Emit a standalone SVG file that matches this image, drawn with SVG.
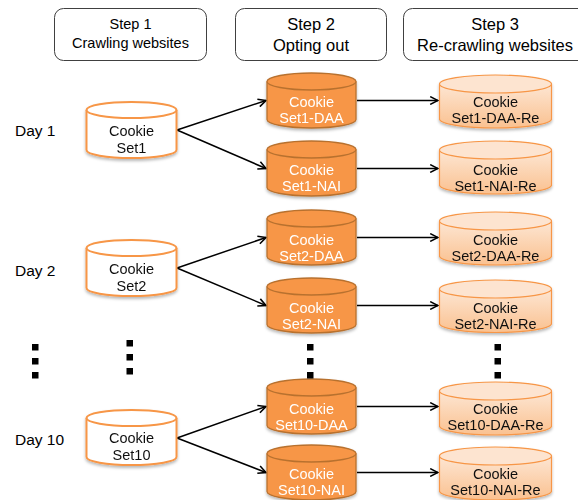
<svg xmlns="http://www.w3.org/2000/svg" width="578" height="500" viewBox="0 0 578 500">
  <style>
    .step { fill: #ffffff; stroke: #404040; stroke-width: 1; }
    .hd { font-family: "Liberation Sans", Arial, sans-serif; fill: #000; text-anchor: middle; }
    .day { font-family: "Liberation Sans", Arial, sans-serif; font-size: 15.5px; fill: #000; }
    .lbl { font-family: "Liberation Sans", Arial, sans-serif; font-size: 14.5px; text-anchor: middle; }
    .src { fill: #ffffff; stroke: #F79646; stroke-width: 2; }
    .opt { fill: #F79646; stroke: #B8712F; stroke-width: 1.3; }
    .re-body { fill: url(#reGrad); stroke: #F79646; stroke-width: 1.2; }
    .re-top { fill: #FDE4D0; stroke: #F79646; stroke-width: 1.2; }
    .dark { fill: #111; }
    .light { fill: #ffffff; }
    .edge { fill: none; stroke: #000; stroke-width: 1.5; marker-end: url(#arrow); }
    .dot { fill: #000; }
  </style>
  <defs>
    <linearGradient id="reGrad" x1="0" y1="0" x2="0" y2="1">
      <stop offset="0" stop-color="#FDE6D3"/>
      <stop offset="1" stop-color="#FAC190"/>
    </linearGradient>
    <filter id="shadow" x="-20%" y="-20%" width="140%" height="150%">
      <feDropShadow dx="0" dy="2" stdDeviation="1.5" flood-color="#000" flood-opacity="0.28"/>
    </filter>
    <marker id="arrow" viewBox="0 0 10 10" refX="9" refY="5" markerWidth="6.5" markerHeight="6.5" orient="auto" markerUnits="strokeWidth">
      <path d="M1,1 L9,5 L1,9" fill="none" stroke="#000" stroke-width="1.6"/>
    </marker>
  </defs>

  <!-- step headers -->
  <g id="step1">
    <rect class="step" x="54.5" y="8.5" width="152" height="52" rx="9"/>
    <text class="hd" x="130.5" y="29" font-size="14.5">Step 1</text>
    <text class="hd" x="130.5" y="48" font-size="14.5">Crawling websites</text>
  </g>
  <g id="step2">
    <rect class="step" x="235.5" y="8.5" width="151" height="52" rx="9"/>
    <text class="hd" x="311" y="30" font-size="16.5">Step 2</text>
    <text class="hd" x="311" y="51" font-size="16.5">Opting out</text>
  </g>
  <g id="step3">
    <rect class="step" x="403.5" y="8.5" width="185" height="52" rx="9"/>
    <text class="hd" x="495" y="30" font-size="16.5">Step 3</text>
    <text class="hd" x="495" y="51" font-size="16.5">Re-crawling websites</text>
  </g>

  <!-- day labels -->
  <g id="day1"><text class="day" x="15" y="136">Day 1</text></g>
  <g id="day2"><text class="day" x="15" y="276">Day 2</text></g>
  <g id="day10"><text class="day" x="15" y="445">Day 10</text></g>

  <!-- connectors -->
  <g id="connectors">
    <line class="edge" x1="177" y1="130" x2="266" y2="100.5"/>
    <line class="edge" x1="177" y1="130" x2="266" y2="168.5"/>
    <line class="edge" x1="177" y1="268" x2="266" y2="237.5"/>
    <line class="edge" x1="177" y1="268" x2="266" y2="305.5"/>
    <line class="edge" x1="177" y1="438" x2="266" y2="406.5"/>
    <line class="edge" x1="177" y1="438" x2="266" y2="472.5"/>
    <line class="edge" x1="357" y1="100.5" x2="438" y2="100.5"/>
    <line class="edge" x1="357" y1="168.5" x2="438" y2="168.5"/>
    <line class="edge" x1="357" y1="237.5" x2="438" y2="237.5"/>
    <line class="edge" x1="357" y1="305.5" x2="438" y2="305.5"/>
    <line class="edge" x1="357" y1="406.5" x2="438" y2="406.5"/>
    <line class="edge" x1="357" y1="472.5" x2="438" y2="472.5"/>
  </g>

  <!-- crawled cookie sets -->
  <g id="set1" filter="url(#shadow)">
    <path class="src" d="M86.5,110 V150 A45,8 0 0 0 176.5,150 V110"/>
    <ellipse class="src" cx="131.5" cy="110" rx="45" ry="8"/>
    <text class="lbl dark" x="131.5" y="136">Cookie</text>
    <text class="lbl dark" x="131.5" y="153">Set1</text>
  </g>
  <g id="set2" filter="url(#shadow)">
    <path class="src" d="M86.5,248 V288 A45,8 0 0 0 176.5,288 V248"/>
    <ellipse class="src" cx="131.5" cy="248" rx="45" ry="8"/>
    <text class="lbl dark" x="131.5" y="274">Cookie</text>
    <text class="lbl dark" x="131.5" y="291">Set2</text>
  </g>
  <g id="set10" filter="url(#shadow)">
    <path class="src" d="M86.5,418 V457 A45,8 0 0 0 176.5,457 V418"/>
    <ellipse class="src" cx="131.5" cy="418" rx="45" ry="8"/>
    <text class="lbl dark" x="131.5" y="443">Cookie</text>
    <text class="lbl dark" x="131.5" y="460">Set10</text>
  </g>

  <!-- opted-out cookie sets -->
  <g id="set1-daa" filter="url(#shadow)">
    <path class="opt" d="M267,81.5 V119.5 A44.5,8.5 0 0 0 356,119.5 V81.5"/>
    <ellipse class="opt" cx="311.5" cy="81.5" rx="44.5" ry="8.5"/>
    <text class="lbl light" x="311.5" y="107">Cookie</text>
    <text class="lbl light" x="311.5" y="123">Set1-DAA</text>
  </g>
  <g id="set1-nai" filter="url(#shadow)">
    <path class="opt" d="M267,149.5 V187.5 A44.5,8.5 0 0 0 356,187.5 V149.5"/>
    <ellipse class="opt" cx="311.5" cy="149.5" rx="44.5" ry="8.5"/>
    <text class="lbl light" x="311.5" y="175">Cookie</text>
    <text class="lbl light" x="311.5" y="191">Set1-NAI</text>
  </g>
  <g id="set2-daa" filter="url(#shadow)">
    <path class="opt" d="M267,218.5 V256.5 A44.5,8.5 0 0 0 356,256.5 V218.5"/>
    <ellipse class="opt" cx="311.5" cy="218.5" rx="44.5" ry="8.5"/>
    <text class="lbl light" x="311.5" y="245">Cookie</text>
    <text class="lbl light" x="311.5" y="261">Set2-DAA</text>
  </g>
  <g id="set2-nai" filter="url(#shadow)">
    <path class="opt" d="M267,286.5 V324.5 A44.5,8.5 0 0 0 356,324.5 V286.5"/>
    <ellipse class="opt" cx="311.5" cy="286.5" rx="44.5" ry="8.5"/>
    <text class="lbl light" x="311.5" y="313">Cookie</text>
    <text class="lbl light" x="311.5" y="329">Set2-NAI</text>
  </g>
  <g id="set10-daa" filter="url(#shadow)">
    <path class="opt" d="M267,387.5 V425.5 A44.5,8.5 0 0 0 356,425.5 V387.5"/>
    <ellipse class="opt" cx="311.5" cy="387.5" rx="44.5" ry="8.5"/>
    <text class="lbl light" x="311.5" y="414">Cookie</text>
    <text class="lbl light" x="311.5" y="430">Set10-DAA</text>
  </g>
  <g id="set10-nai" filter="url(#shadow)">
    <path class="opt" d="M267,453.5 V491.5 A44.5,8.5 0 0 0 356,491.5 V453.5"/>
    <ellipse class="opt" cx="311.5" cy="453.5" rx="44.5" ry="8.5"/>
    <text class="lbl light" x="311.5" y="479">Cookie</text>
    <text class="lbl light" x="311.5" y="495">Set10-NAI</text>
  </g>

  <!-- re-crawled cookie sets -->
  <g id="set1-daa-re" filter="url(#shadow)">
    <path class="re-body" d="M439.5,84 V119 A56,9 0 0 0 551.5,119 V84"/>
    <ellipse class="re-top" cx="495.5" cy="84" rx="56" ry="9"/>
    <text class="lbl dark" x="495.5" y="107">Cookie</text>
    <text class="lbl dark" x="495.5" y="123">Set1-DAA-Re</text>
  </g>
  <g id="set1-nai-re" filter="url(#shadow)">
    <path class="re-body" d="M439.5,150 V185 A56,9 0 0 0 551.5,185 V150"/>
    <ellipse class="re-top" cx="495.5" cy="150" rx="56" ry="9"/>
    <text class="lbl dark" x="495.5" y="175">Cookie</text>
    <text class="lbl dark" x="495.5" y="191">Set1-NAI-Re</text>
  </g>
  <g id="set2-daa-re" filter="url(#shadow)">
    <path class="re-body" d="M439.5,221 V256 A56,9 0 0 0 551.5,256 V221"/>
    <ellipse class="re-top" cx="495.5" cy="221" rx="56" ry="9"/>
    <text class="lbl dark" x="495.5" y="245">Cookie</text>
    <text class="lbl dark" x="495.5" y="261">Set2-DAA-Re</text>
  </g>
  <g id="set2-nai-re" filter="url(#shadow)">
    <path class="re-body" d="M439.5,289 V323.5 A56,9 0 0 0 551.5,323.5 V289"/>
    <ellipse class="re-top" cx="495.5" cy="289" rx="56" ry="9"/>
    <text class="lbl dark" x="495.5" y="313">Cookie</text>
    <text class="lbl dark" x="495.5" y="329">Set2-NAI-Re</text>
  </g>
  <g id="set10-daa-re" filter="url(#shadow)">
    <path class="re-body" d="M439.5,391 V426 A56,9 0 0 0 551.5,426 V391"/>
    <ellipse class="re-top" cx="495.5" cy="391" rx="56" ry="9"/>
    <text class="lbl dark" x="495.5" y="414">Cookie</text>
    <text class="lbl dark" x="495.5" y="430">Set10-DAA-Re</text>
  </g>
  <g id="set10-nai-re" filter="url(#shadow)">
    <path class="re-body" d="M439.5,456 V491 A56,9 0 0 0 551.5,491 V456"/>
    <ellipse class="re-top" cx="495.5" cy="456" rx="56" ry="9"/>
    <text class="lbl dark" x="495.5" y="479">Cookie</text>
    <text class="lbl dark" x="495.5" y="495">Set10-NAI-Re</text>
  </g>

  <!-- vertical ellipsis dots -->
  <g id="ellipsis">
    <rect class="dot" x="32" y="344" width="6.5" height="6.5"/>
    <rect class="dot" x="32" y="358" width="6.5" height="6.5"/>
    <rect class="dot" x="32" y="372" width="6.5" height="6.5"/>
    <rect class="dot" x="126.5" y="340" width="6.5" height="6.5"/>
    <rect class="dot" x="126.5" y="354" width="6.5" height="6.5"/>
    <rect class="dot" x="126.5" y="368" width="6.5" height="6.5"/>
    <rect class="dot" x="307" y="344" width="6.5" height="6.5"/>
    <rect class="dot" x="307" y="358" width="6.5" height="6.5"/>
    <rect class="dot" x="307" y="372" width="6.5" height="6.5"/>
    <rect class="dot" x="494.5" y="344" width="6.5" height="6.5"/>
    <rect class="dot" x="494.5" y="358" width="6.5" height="6.5"/>
    <rect class="dot" x="494.5" y="372" width="6.5" height="6.5"/>
  </g>
</svg>
